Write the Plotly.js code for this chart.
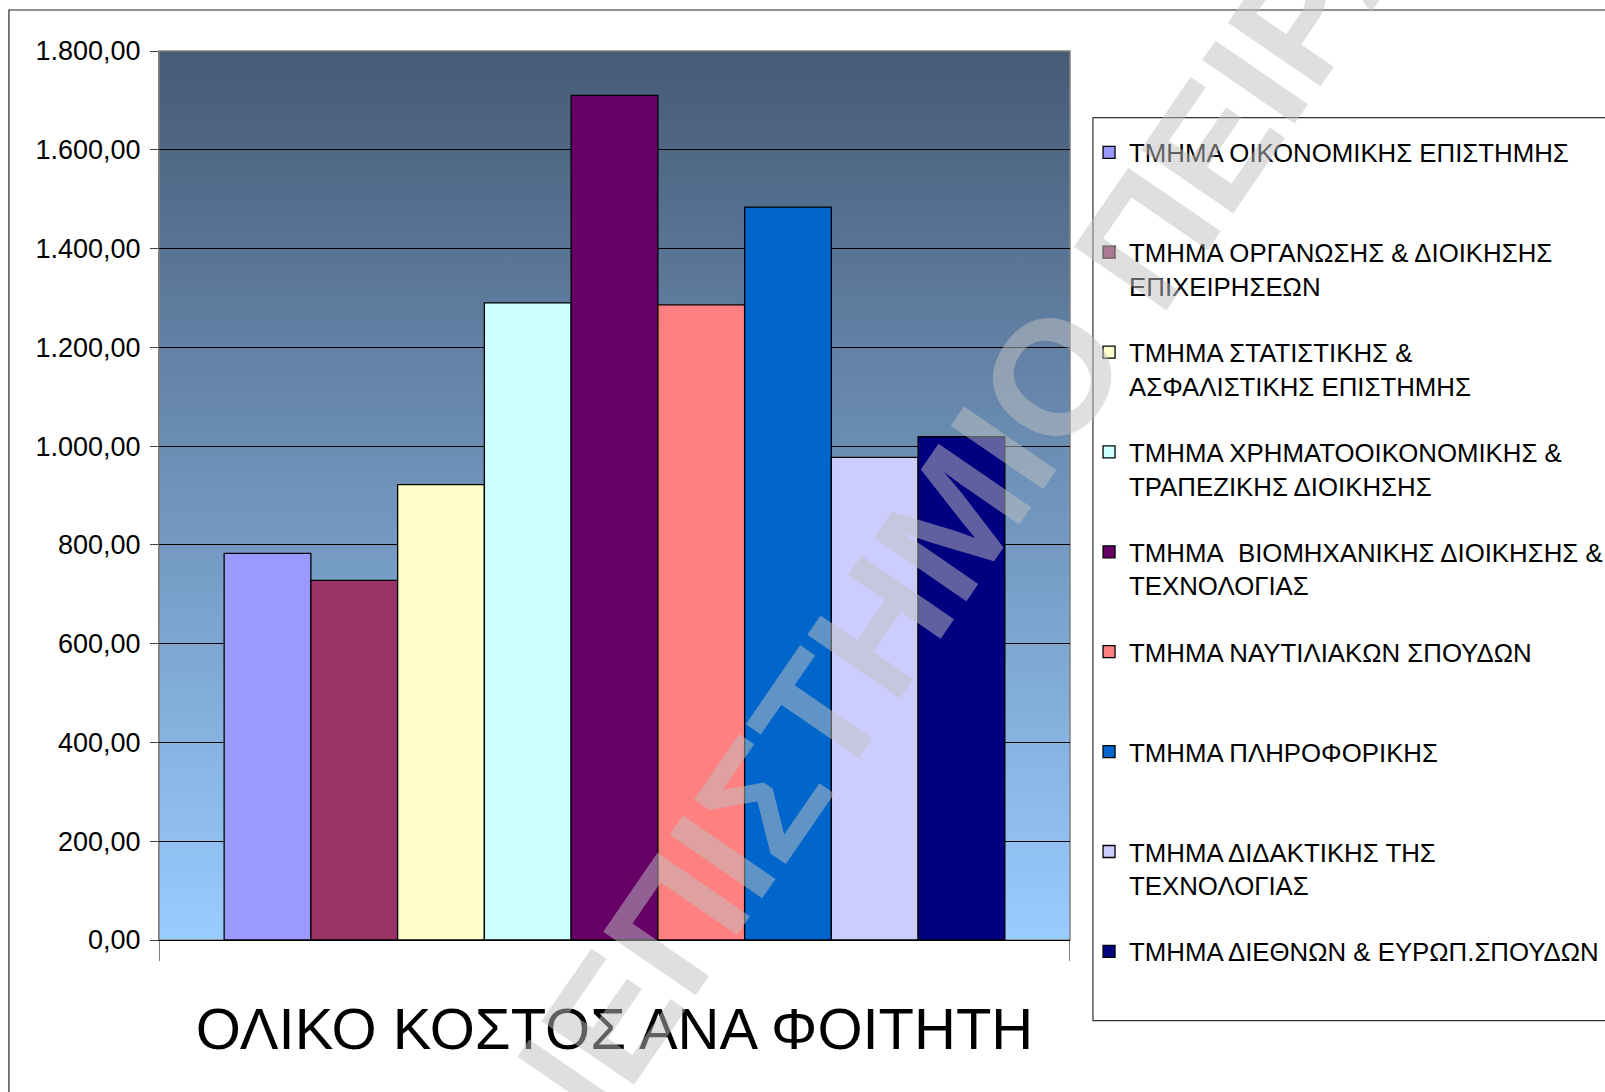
<!DOCTYPE html>
<html>
<head>
<meta charset="utf-8">
<script src="https://cdn.plot.ly/plotly-3.0.1.min.js"></script>
<style>
html, body { margin: 0; padding: 0; background: #ffffff; }
#chart { width: 1605px; height: 1092px; }
</style>
</head>
<body>
<div id="chart"></div>
<script>
// ---- data ----
const category = ['ΟΛΙΚΟ ΚΟΣΤΟΣ ΑΝΑ ΦΟΙΤΗΤΗ'];
const departmentLines = [
  ['ΤΜΗΜΑ ΟΙΚΟΝΟΜΙΚΗΣ ΕΠΙΣΤΗΜΗΣ'],
  ['ΤΜΗΜΑ ΟΡΓΑΝΩΣΗΣ & ΔΙΟΙΚΗΣΗΣ', 'ΕΠΙΧΕΙΡΗΣΕΩΝ'],
  ['ΤΜΗΜΑ ΣΤΑΤΙΣΤΙΚΗΣ &', 'ΑΣΦΑΛΙΣΤΙΚΗΣ ΕΠΙΣΤΗΜΗΣ'],
  ['ΤΜΗΜΑ ΧΡΗΜΑΤΟΟΙΚΟΝΟΜΙΚΗΣ &', 'ΤΡΑΠΕΖΙΚΗΣ ΔΙΟΙΚΗΣΗΣ'],
  ['ΤΜΗΜΑ\u00a0 ΒΙΟΜΗΧΑΝΙΚΗΣ ΔΙΟΙΚΗΣΗΣ &', 'ΤΕΧΝΟΛΟΓΙΑΣ'],
  ['ΤΜΗΜΑ ΝΑΥΤΙΛΙΑΚΩΝ ΣΠΟΥΔΩΝ'],
  ['ΤΜΗΜΑ ΠΛΗΡΟΦΟΡΙΚΗΣ'],
  ['ΤΜΗΜΑ ΔΙΔΑΚΤΙΚΗΣ ΤΗΣ', 'ΤΕΧΝΟΛΟΓΙΑΣ'],
  ['ΤΜΗΜΑ ΔΙΕΘΝΩΝ & ΕΥΡΩΠ.ΣΠΟΥΔΩΝ']
];
const costs = [783, 728, 922, 1290, 1710, 1286, 1484, 977, 1019];
const barColors = ['#9999FF', '#993366', '#FFFFCC', '#CCFFFF', '#660066', '#FF8080', '#0066CC', '#CCCCFF', '#000080'];
const yTickValues = [0, 200, 400, 600, 800, 1000, 1200, 1400, 1600, 1800];
const watermarkText = 'ΠΑΝΕΠΙΣΤΗΜΙΟ ΠΕΙΡΑΙΩΣ';

// ---- build ----
const FONT = 'Liberation Sans, Arial, Helvetica, sans-serif';

function legendName(lines) {
  const padded = lines.slice();
  while (padded.length < 2) padded.push('\u00a0');
  return padded.join('<br>');
}

const traces = departmentLines.map((lines, i) => ({
  type: 'bar',
  name: legendName(lines),
  legendgroup: 'g' + i,
  x: category,
  y: [costs[i]],
  marker: { color: barColors[i], line: { color: '#000000', width: 1.3 } },
  hovertemplate: lines.join(' ') + ': %{y:,.2f}<extra></extra>'
}));

const gradientSvg =
  "<svg xmlns='http://www.w3.org/2000/svg' width='10' height='100' preserveAspectRatio='none'>" +
  "<defs><linearGradient id='g' x1='0' y1='0' x2='0' y2='1'>" +
  "<stop offset='0' stop-color='#465B76'/>" +
  "<stop offset='1' stop-color='#99CCFF'/>" +
  "</linearGradient></defs>" +
  "<rect x='0' y='0' width='10' height='100' fill='url(#g)'/></svg>";
const gradientUri = 'data:image/svg+xml;charset=utf-8,' + encodeURIComponent(gradientSvg);

const layout = {
  width: 1605,
  height: 1092,
  margin: { l: 159, r: 535, t: 51, b: 152, autoexpand: false },
  paper_bgcolor: '#ffffff',
  plot_bgcolor: 'rgba(0,0,0,0)',
  separators: ',.',
  font: { family: FONT, color: '#000000', size: 25 },
  barmode: 'group',
  bargap: 0.143,
  bargroupgap: 0,
  showlegend: true,
  title: {
    text: category[0],
    font: { family: FONT, size: 58, color: '#000000' },
    xref: 'paper', x: 0.5, xanchor: 'center',
    yref: 'container', y: 0.058, yanchor: 'middle'
  },
  xaxis: {
    type: 'category',
    range: [-0.50001, 0.50001],
    showticklabels: false,
    ticks: 'outside',
    tickson: 'boundaries',
    ticklen: 20,
    tickcolor: '#7f7f7f',
    tickwidth: 1,
    showline: true,
    linecolor: '#000000',
    linewidth: 1,
    showgrid: false,
    zeroline: false,
    fixedrange: true
  },
  yaxis: {
    range: [0, 1800],
    tickvals: yTickValues,
    tickformat: ',.2f',
    ticks: 'outside',
    ticklen: 8,
    tickcolor: '#404040',
    tickwidth: 1,
    ticklabelstandoff: 4,
    tickfont: { family: FONT, size: 27, color: '#000000' },
    showline: true,
    linecolor: '#7f7f7f',
    linewidth: 1,
    showgrid: true,
    gridcolor: '#000000',
    gridwidth: 1,
    zeroline: false,
    fixedrange: true
  },
  legend: {
    x: 1.0209, xanchor: 'left',
    y: 0.9239, yanchor: 'top',
    bgcolor: 'rgba(0,0,0,0)',
    borderwidth: 0,
    valign: 'top',
    traceorder: 'grouped',
    tracegroupgap: 29.8,
    font: { family: FONT, size: 25.8, color: '#000000' },
    title: { text: '\u00a0', font: { size: 8 } }
  },
  images: [{
    source: gradientUri,
    xref: 'paper', yref: 'paper',
    x: 0, y: 1, sizex: 1, sizey: 1,
    xanchor: 'left', yanchor: 'top',
    sizing: 'stretch',
    layer: 'below'
  }],
  shapes: [
    { type: 'rect', xref: 'paper', yref: 'paper', x0: 0, x1: 1, y0: 0, y1: 1,
      line: { color: '#808080', width: 1.5 }, fillcolor: 'rgba(0,0,0,0)', layer: 'below' },
    { type: 'rect', xref: 'paper', yref: 'paper', x0: -0.1647, x1: 1.6, y0: -0.2, y1: 1.0461,
      line: { color: '#222222', width: 1.2 }, fillcolor: 'rgba(0,0,0,0)', layer: 'above' },
    { type: 'rect', xref: 'paper', yref: 'paper', x0: 1.0252, x1: 1.7, y0: -0.0906, y1: 0.925,
      line: { color: '#333333', width: 1.2 }, fillcolor: 'rgba(0,0,0,0)', layer: 'above' }
  ],
  annotations: [{
    text: watermarkText,
    xref: 'paper', yref: 'paper',
    x: 0.8815, y: 0.487,
    xanchor: 'center', yanchor: 'middle',
    showarrow: false,
    textangle: -55.5,
    font: { family: FONT, size: 163, weight: 'bold', color: 'rgba(192,192,192,0.5)' }
  }]
};

Plotly.newPlot('chart', traces, layout, { displayModeBar: false, staticPlot: true });
</script>
</body>
</html>
